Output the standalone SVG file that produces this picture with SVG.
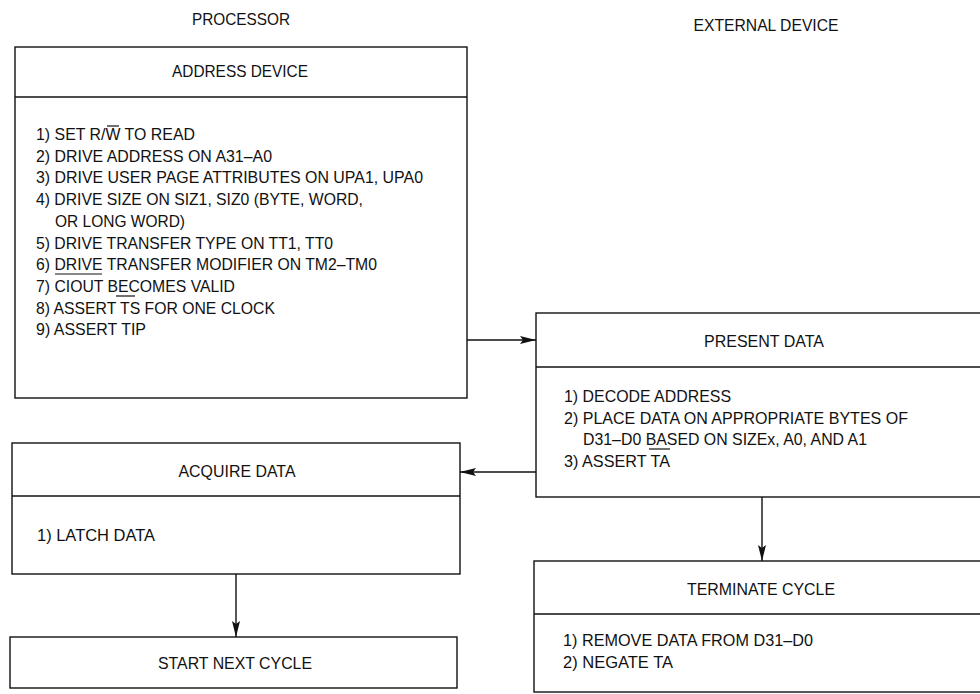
<svg xmlns="http://www.w3.org/2000/svg" width="980" height="694" viewBox="0 0 980 694">
<style>
  .box { fill: none; stroke: #111; stroke-width: 1.4; }
  .div { stroke: #111; stroke-width: 1.4; }
  .t { font-family: "Liberation Sans", Arial, sans-serif; font-size: 16.5px; fill: #111; }
  .h { text-anchor: middle; }
  .bar { stroke: #111; stroke-width: 1.2; }
  .conn { stroke: #111; stroke-width: 1.4; fill: none; marker-end: url(#arr); }
</style>
<defs>
  <marker id="arr" markerUnits="userSpaceOnUse" markerWidth="18" markerHeight="10" refX="16" refY="4" orient="auto">
    <path d="M0,0 L16,4 L0,8 L3,4 z" fill="#111"/>
  </marker>
</defs>
<rect width="980" height="694" fill="#fff"/>

<text class="t h" x="241" y="25" textLength="98" lengthAdjust="spacingAndGlyphs">PROCESSOR</text>
<text class="t h" x="766" y="31" textLength="145" lengthAdjust="spacingAndGlyphs">EXTERNAL DEVICE</text>

<g id="address-device">
  <rect class="box" x="15" y="47" width="452" height="351"/>
  <line class="div" x1="15" y1="97" x2="467" y2="97"/>
  <text class="t h" x="240" y="77" textLength="136" lengthAdjust="spacingAndGlyphs">ADDRESS DEVICE</text>
  <text class="t" x="36" y="140" textLength="159" lengthAdjust="spacingAndGlyphs">1) SET R/W TO READ</text>
  <text class="t" x="36" y="161.7" textLength="236" lengthAdjust="spacingAndGlyphs">2) DRIVE ADDRESS ON A31–A0</text>
  <text class="t" x="36" y="183.4" textLength="387" lengthAdjust="spacingAndGlyphs">3) DRIVE USER PAGE ATTRIBUTES ON UPA1, UPA0</text>
  <text class="t" x="36" y="205.1" textLength="327" lengthAdjust="spacingAndGlyphs">4) DRIVE SIZE ON SIZ1, SIZ0 (BYTE, WORD,</text>
  <text class="t" x="55" y="226.8" textLength="130" lengthAdjust="spacingAndGlyphs">OR LONG WORD)</text>
  <text class="t" x="36" y="248.5" textLength="297" lengthAdjust="spacingAndGlyphs">5) DRIVE TRANSFER TYPE ON TT1, TT0</text>
  <text class="t" x="36" y="270.2" textLength="341" lengthAdjust="spacingAndGlyphs">6) DRIVE TRANSFER MODIFIER ON TM2–TM0</text>
  <text class="t" x="36" y="291.9" textLength="199" lengthAdjust="spacingAndGlyphs">7) CIOUT BECOMES VALID</text>
  <text class="t" x="36" y="313.6" textLength="239" lengthAdjust="spacingAndGlyphs">8) ASSERT TS FOR ONE CLOCK</text>
  <text class="t" x="36" y="335.3" textLength="110" lengthAdjust="spacingAndGlyphs">9) ASSERT TIP</text>
  <line class="bar" x1="107" y1="126" x2="119" y2="126"/>
  <line class="bar" x1="55" y1="274" x2="102" y2="274"/>
  <line class="bar" x1="116" y1="296" x2="135" y2="296"/>
</g>

<g id="present-data">
  <rect class="box" x="536" y="313" width="460" height="184"/>
  <line class="div" x1="536" y1="367" x2="980" y2="367"/>
  <text class="t h" x="764" y="347" textLength="120" lengthAdjust="spacingAndGlyphs">PRESENT DATA</text>
  <text class="t" x="564" y="402" textLength="167" lengthAdjust="spacingAndGlyphs">1) DECODE ADDRESS</text>
  <text class="t" x="564" y="423.7" textLength="344" lengthAdjust="spacingAndGlyphs">2) PLACE DATA ON APPROPRIATE BYTES OF</text>
  <text class="t" x="583" y="445.4" textLength="284" lengthAdjust="spacingAndGlyphs">D31–D0 BASED ON SIZEx, A0, AND A1</text>
  <text class="t" x="564" y="467.1" textLength="106" lengthAdjust="spacingAndGlyphs">3) ASSERT TA</text>
  <line class="bar" x1="649" y1="449" x2="670" y2="449"/>
</g>

<g id="acquire-data">
  <rect class="box" x="12" y="443" width="448" height="131"/>
  <line class="div" x1="12" y1="496" x2="460" y2="496"/>
  <text class="t h" x="237" y="477" textLength="117" lengthAdjust="spacingAndGlyphs">ACQUIRE DATA</text>
  <text class="t" x="37" y="541" textLength="118" lengthAdjust="spacingAndGlyphs">1) LATCH DATA</text>
</g>

<g id="terminate-cycle">
  <rect class="box" x="534" y="561" width="460" height="131"/>
  <line class="div" x1="534" y1="614" x2="980" y2="614"/>
  <text class="t h" x="761" y="595" textLength="148" lengthAdjust="spacingAndGlyphs">TERMINATE CYCLE</text>
  <text class="t" x="563" y="646" textLength="250" lengthAdjust="spacingAndGlyphs">1) REMOVE DATA FROM D31–D0</text>
  <text class="t" x="563" y="668" textLength="110" lengthAdjust="spacingAndGlyphs">2) NEGATE TA</text>
</g>

<g id="start-next-cycle">
  <rect class="box" x="10" y="637" width="447" height="51"/>
  <text class="t h" x="235" y="669" textLength="154" lengthAdjust="spacingAndGlyphs">START NEXT CYCLE</text>
</g>

<g id="connectors">
  <line class="conn" x1="467" y1="340" x2="536" y2="340"/>
  <line class="conn" x1="536" y1="472" x2="460" y2="472"/>
  <line class="conn" x1="762" y1="497" x2="762" y2="561"/>
  <line class="conn" x1="236" y1="574" x2="236" y2="637"/>
</g>
</svg>
